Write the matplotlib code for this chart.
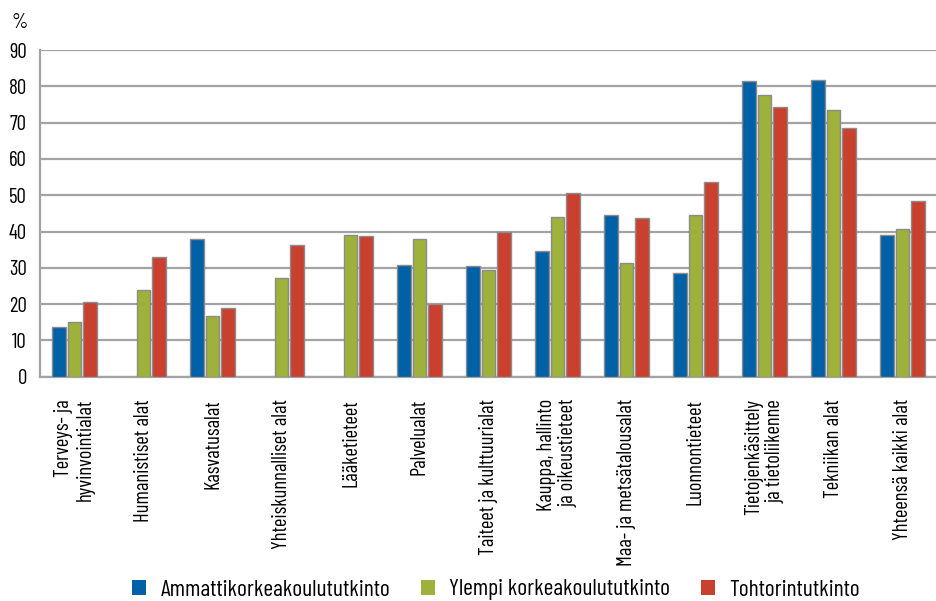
import matplotlib
matplotlib.use("Agg")
import matplotlib.pyplot as plt
import numpy as np
from matplotlib.patches import Patch

plt.rcParams['font.family'] = ['Barlow Condensed', 'DejaVu Sans']

categories = [
    "Terveys- ja\nhyvinvointialat",
    "Humanistiset alat",
    "Kasvatusalat",
    "Yhteiskunnalliset alat",
    "Lääketieteet",
    "Palvelualat",
    "Taiteet ja kulttuurialat",
    "Kauppa, hallinto\nja oikeustieteet",
    "Maa- ja metsätalousalat",
    "Luonnontieteet",
    "Tietojenkäsittely\nja tietoliikenne",
    "Tekniikan alat",
    "Yhteensä kaikki alat",
]
series_names = ["Ammattikorkeakoulututkinto", "Ylempi korkeakoulututkinto", "Tohtorintutkinto"]
amk = [13.8, np.nan, 37.8, np.nan, np.nan, 30.8, 30.4, 34.5, 44.5, 28.7, 81.4, 81.6, 38.9]
ylempi = [15.2, 23.9, 16.6, 27.2, 39.1, 37.9, 29.5, 44.1, 31.3, 44.6, 77.5, 73.4, 40.7]
tohtori = [20.7, 33.0, 18.8, 36.4, 38.7, 20.1, 40.0, 50.5, 43.7, 53.7, 74.3, 68.6, 48.4]
yticks = [0, 10, 20, 30, 40, 50, 60, 70, 80, 90]

colors = ["#0061A6", "#9DB13B", "#C9402F"]

fig = plt.figure(figsize=(9.37, 6.01), dpi=100)
ax = fig.add_axes([40/937, 1-376.7/601, 1-40/937, (376.7-50)/601])

x = np.arange(len(categories))
w = 0.19
off = 0.225
for i, (vals, c, name) in enumerate(zip([amk, ylempi, tohtori], colors, series_names)):
    ax.bar(x + (i-1)*off, vals, width=w, color=c, edgecolor="#8c8c8c", linewidth=1.0, zorder=3, label=name)

ax.set_xlim(-0.5, len(categories)-0.5)
ax.set_ylim(0, 90)
ax.set_yticks(yticks)
ax.set_yticklabels([str(t) for t in yticks], fontsize=15)
ax.yaxis.grid(True, color="#a3a3a3", linewidth=1.6, zorder=0)
ax.set_axisbelow(True)
ax.tick_params(axis='y', length=0, pad=9.5)
ax.tick_params(axis='x', length=0, pad=16)
ax.set_xticks(x)
ax.set_xticklabels(categories, rotation=90, fontsize=14.8, ha='center', va='top',
                   multialignment='right', linespacing=1.15)
for s in ['top', 'right']:
    ax.spines[s].set_visible(False)
ax.spines['left'].set_color("#a3a3a3")
ax.spines['left'].set_linewidth(1.6)
ax.spines['bottom'].set_color("#a3a3a3")
ax.spines['bottom'].set_linewidth(1.6)

fig.text(20/937, 1-22/601, "%", fontsize=15, ha='center', va='center')

handles = [Patch(facecolor=c, edgecolor='none') for c in colors]
fig.legend(handles, series_names, loc='center', bbox_to_anchor=(496/937, 1-590/601), ncol=3,
           frameon=False, fontsize=17, handlelength=0.6, handleheight=0.6, columnspacing=1.3, handletextpad=0.6)

fig.savefig("out.png", dpi=100)
